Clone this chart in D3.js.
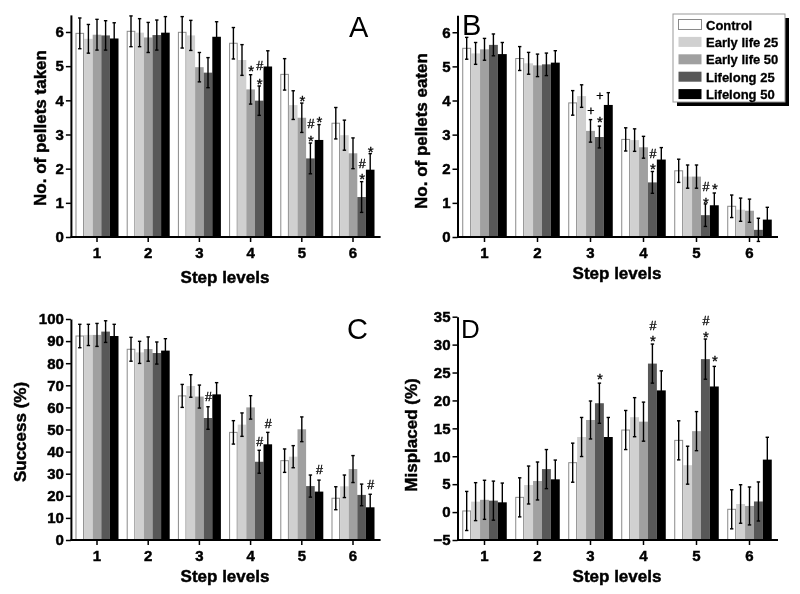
<!DOCTYPE html>
<html><head><meta charset="utf-8">
<script src="https://cdn.jsdelivr.net/npm/d3@7"></script>
<style>
body{margin:0;background:#fff}
svg{display:block;will-change:transform}
text{font-family:"Liberation Sans",Arial,Helvetica,sans-serif}
text.heavy{font-weight:bold;stroke:#000;stroke-width:0.45px;fill:#000}
</style>
</head><body>
<svg id="chart" width="800" height="594"></svg>
<script>
// ---------- data ----------
const steps = ["1","2","3","4","5","6"];
const series = ["Control","Early life 25","Early life 50","Lifelong 25","Lifelong 50"];

// rows = step levels, columns = series
const takenMeans = [
  [5.96,5.80,5.92,5.90,5.81],
  [6.02,5.98,5.84,5.91,5.98],
  [5.99,5.90,4.97,4.81,5.86],
  [5.67,5.18,4.32,3.99,4.99],
  [4.76,3.86,3.49,2.30,2.84],
  [3.33,2.98,2.45,1.17,1.97]
];
const takenErr = [
  [0.45,0.42,0.45,0.43,0.46],
  [0.45,0.41,0.44,0.44,0.47],
  [0.46,0.44,0.43,0.44,0.44],
  [0.46,0.45,0.43,0.43,0.46],
  [0.46,0.42,0.43,0.45,0.45],
  [0.46,0.44,0.45,0.45,0.47]
];
const eatenMeans = [
  [5.53,5.38,5.50,5.63,5.36],
  [5.23,5.09,5.03,5.06,5.11],
  [3.93,4.13,3.11,2.93,3.87],
  [2.86,2.84,2.63,1.60,2.27],
  [1.94,1.77,1.77,0.64,0.93],
  [0.90,0.80,0.77,0.21,0.51]
];
const eatenErr = [
  [0.32,0.32,0.32,0.32,0.34],
  [0.35,0.32,0.33,0.33,0.35],
  [0.36,0.33,0.33,0.32,0.36],
  [0.34,0.33,0.32,0.32,0.35],
  [0.34,0.34,0.34,0.33,0.36],
  [0.33,0.34,0.34,0.34,0.36]
];
const successMeans = [
  [92.3,92.8,92.8,94.3,92.3],
  [86.3,84.9,86.4,84.6,85.7],
  [65.2,69.7,64.9,55.2,65.9],
  [48.7,52.2,60.0,35.4,43.3],
  [35.9,37.7,50.1,24.4,21.9],
  [18.9,24.3,32.1,20.4,14.8]
];
const successErr = [
  [5.3,4.8,5.2,4.9,5.3],
  [5.4,5.0,5.5,5.0,5.4],
  [5.2,5.1,5.2,5.1,5.3],
  [5.3,5.3,5.3,5.2,5.4],
  [5.3,5.0,5.6,5.0,5.2],
  [5.2,5.1,6.1,4.9,5.9]
];
const misplacedMeans = [
  [0.2,1.87,2.2,2.05,1.75],
  [2.64,4.85,5.57,7.7,5.87],
  [8.85,13.45,16.5,19.5,13.45],
  [14.7,17.0,16.2,26.6,21.8],
  [12.85,8.4,14.5,27.4,22.5],
  [0.5,1.45,1.1,1.9,9.4]
];
const misplacedErr = [
  [3.5,3.4,3.5,3.5,3.45],
  [3.5,3.4,3.4,3.5,3.45],
  [3.5,3.5,3.4,3.6,3.5],
  [3.5,3.5,3.5,3.5,3.5],
  [3.5,3.4,3.5,3.6,3.6],
  [3.5,3.45,3.4,3.5,4.0]
];

// significance marks: step, series index, symbol, value (centre of symbol)
const takenMarks = [
  ["4",2,"*",4.98],["4",3,"#",5.03],["4",3,"*",4.59],
  ["5",2,"*",4.11],["5",3,"#",3.31],["5",3,"*",2.94],["5",4,"*",3.48],
  ["6",3,"#",2.16],["6",3,"*",1.80],["6",4,"*",2.60]
];
const eatenMarks = [
  ["3",2,"+",3.72],["3",3,"+",4.16],["3",3,"*",3.49],
  ["4",3,"#",2.45],["4",3,"*",2.10],
  ["5",3,"#",1.48],["5",3,"*",1.10],["5",4,"*",1.52]
];
const successMarks = [
  ["3",3,"#",64.8],["4",3,"#",44.5],["4",4,"#",52.5],
  ["5",4,"#",32.1],["6",4,"#",25.2]
];
const misplacedMarks = [
  ["3",3,"*",24.5],["4",3,"#",33.5],["4",3,"*",31.3],
  ["5",3,"#",34.3],["5",3,"*",32.1],["5",4,"*",27.7]
];

const yTicksPellets = [0,1,2,3,4,5,6];
const yTicksSuccess = [0,10,20,30,40,50,60,70,80,90,100];
const yTicksMisplaced = [-5,0,5,10,15,20,25,30,35];
const xTitle = "Step levels";

// ---------- style ----------
const fills = ["#ffffff","#d0d0d0","#a0a0a0","#585858","#000000"];

const panels = [
  {letter:"A", means:takenMeans, errs:takenErr, marks:takenMarks, domain:[0,6.5], ticks:yTicksPellets,
   title:"No. of pellets taken", xr:[71.4,378.6], yr:[237,14.9], lx:349, ly:37, ls:29,
   tx:40, ty:128, xlx:225, xly:283},
  {letter:"B", means:eatenMeans, errs:eatenErr, marks:eatenMarks, domain:[0,6.5], ticks:yTicksPellets,
   title:"No. of pellets eaten", xr:[458,776], yr:[237,15.2], lx:462, ly:35, ls:29,
   tx:421, ty:131, xlx:617, xly:279},
  {letter:"C", means:successMeans, errs:successErr, marks:successMarks, domain:[0,100], ticks:yTicksSuccess,
   title:"Success (%)", xr:[71.4,378.6], yr:[540,319], lx:347, ly:339, ls:29,
   tx:20, ty:432, xlx:225, xly:582},
  {letter:"D", means:misplacedMeans, errs:misplacedErr, marks:misplacedMarks, domain:[-5,35], ticks:yTicksMisplaced,
   title:"Misplaced (%)", xr:[458,776], yr:[540,316.7], lx:461, ly:338, ls:26,
   tx:411, ty:435, xlx:617, xly:582}
];

const svg = d3.select("#chart");

panels.forEach(p => {
  const g = svg.append("g");
  const x0 = d3.scaleBand().domain(steps).range(p.xr).paddingInner(0.16).paddingOuter(0.08);
  const x1 = d3.scaleBand().domain(d3.range(series.length)).range([0, x0.bandwidth()]);
  const y = d3.scaleLinear().domain(p.domain).range(p.yr);
  const base = y(p.domain[0]);

  const rows = [];
  steps.forEach((s,i) => series.forEach((n,j) => rows.push({s, j, v:p.means[i][j], e:p.errs[i][j]})));

  // bars
  g.selectAll("rect.bar").data(rows).join("rect")
    .attr("x", d => x0(d.s) + x1(d.j) + (d.j===0 ? 0.5 : 0))
    .attr("width", d => x1.bandwidth() - (d.j===0 ? 1 : 0))
    .attr("y", d => y(d.v))
    .attr("height", d => base - y(d.v))
    .attr("fill", d => fills[d.j])
    .attr("stroke", d => d.j===0 ? "#8a8a8a" : "none")
    .attr("stroke-width", 1);

  // error bars
  const cx = d => x0(d.s) + x1(d.j) + x1.bandwidth()/2;
  const eb = g.selectAll("g.err").data(rows).join("g").attr("stroke","#000").attr("stroke-width",1.4);
  eb.append("line").attr("x1",cx).attr("x2",cx).attr("y1",d=>y(d.v-d.e)).attr("y2",d=>y(d.v+d.e));
  eb.append("line").attr("x1",d=>cx(d)-1.7).attr("x2",d=>cx(d)+1.7).attr("y1",d=>y(d.v+d.e)).attr("y2",d=>y(d.v+d.e));
  eb.append("line").attr("x1",d=>cx(d)-1.7).attr("x2",d=>cx(d)+1.7).attr("y1",d=>y(d.v-d.e)).attr("y2",d=>y(d.v-d.e));

  // marks
  g.selectAll("text.mark").data(p.marks).join("text")
    .attr("x", d => x0(d[0]) + x1(d[1]) + x1.bandwidth()/2 + 0.5)
    .attr("y", d => y(d[3]))
    .attr("dy", d => d[2]==="*" ? "0.6em" : "0.36em")
    .attr("text-anchor","middle")
    .attr("font-size", d => d[2]==="*" ? 15 : 12.5)
    .attr("fill","#000")
    .attr("stroke","#000").attr("stroke-width", 0.3)
    .text(d => d[2]);

  // axes
  const ya = g.append("g").attr("transform",`translate(${p.xr[0]-0.5},0)`)
    .call(d3.axisLeft(y).tickValues(p.ticks).tickFormat(d3.format("d")).tickSize(5).tickSizeOuter(0).tickPadding(2));
  ya.select(".domain").attr("stroke-width",2);
  ya.selectAll(".tick line").attr("stroke-width",1.5);
  ya.selectAll("text").attr("class","heavy").attr("font-size",15);

  const xa = g.append("g").attr("transform",`translate(0,${base})`)
    .call(d3.axisBottom(x0).tickSize(5).tickSizeOuter(0).tickPadding(5));
  xa.select(".domain").attr("d", `M${p.xr[0]-1},0H${p.xr[1]+2}`).attr("stroke-width",2);
  xa.selectAll(".tick line").attr("stroke-width",1.5);
  xa.selectAll("text").attr("class","heavy").attr("font-size",15);

  // titles
  g.append("text").attr("class","heavy").attr("transform",`translate(${p.tx},${p.ty}) rotate(-90)`)
    .attr("text-anchor","middle").attr("dominant-baseline","central")
    .attr("font-size",17).text(p.title);
  g.append("text").attr("class","heavy").attr("x",p.xlx).attr("y",p.xly).attr("text-anchor","middle")
    .attr("font-size",17).text(xTitle);
  g.append("text").attr("x",p.lx).attr("y",p.ly).attr("font-size",p.ls).attr("fill","#000").text(p.letter);
});

// legend
const lg = svg.append("g").attr("transform","translate(673,14)");
lg.append("rect").attr("x",4).attr("y",4).attr("width",112).attr("height",88).attr("fill","#000");
lg.append("rect").attr("x",0).attr("y",0).attr("width",112).attr("height",88).attr("fill","#fff").attr("stroke","#999").attr("stroke-width",1);
const li = lg.selectAll("g.li").data(series).join("g").attr("transform",(d,i)=>`translate(5,${5+i*17.4})`);
li.append("rect").attr("x",0.5).attr("y",0.5).attr("width",23).attr("height",10)
  .attr("fill",(d,i)=>fills[i]).attr("stroke",(d,i)=>i===0?"#8a8a8a":"none");
li.append("text").attr("class","heavy").attr("x",28).attr("y",10.5).attr("font-size",13)
  .style("stroke-width","0.3px").text(d=>d);
</script>
</body></html>
